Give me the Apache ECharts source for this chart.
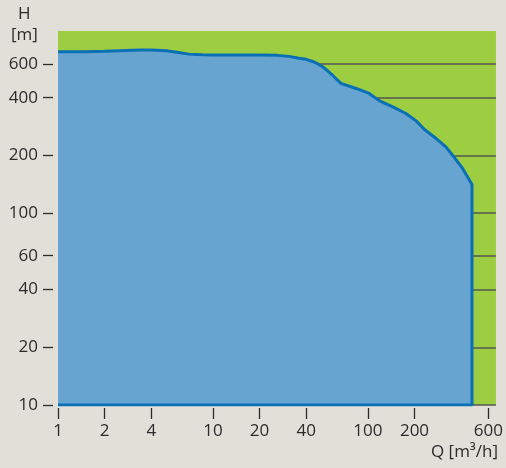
<!DOCTYPE html>
<html>
<head>
<meta charset="utf-8">
<script src="https://cdn.jsdelivr.net/npm/echarts@6/dist/echarts.min.js"></script>
<style>
html,body{margin:0;padding:0;background:#e2dfd9;}
#chart{width:506px;height:468px;}
</style>
</head>
<body>
<div id="chart"></div>
<script>
// Flow Q [m³/h] and head H [m] along the outline of the performance field
var flowQ = [1, 1.5, 2, 2.5, 3, 3.5, 4, 5, 6, 7, 8.5, 10, 20, 26, 31, 36, 40, 44, 48, 51, 55, 59, 63, 67, 84, 102, 119, 145, 176, 205, 232, 276, 320, 353, 409, 470, 470, 1];
var headH = [694, 695, 698, 703, 707, 709, 709, 703, 688, 675, 669, 667, 667, 665, 657, 643, 634, 618, 598, 580, 553, 525, 498, 475, 447, 421, 385, 358, 331, 303, 273, 245, 221, 200, 171, 141, 10, 10];
var xTicks = [1, 2, 4, 10, 20, 40, 100, 200, 600];
var yTicks = [10, 20, 40, 60, 100, 200, 400, 600];
var xMin = 1, xMax = 671, yMin = 10, yMax = 891;

var pts = flowQ.map(function (q, i) { return [q, headH[i]]; });
var font = '"Open Sans", "Noto Sans", sans-serif';
var txt = '#2b2b2b';

var chart = echarts.init(document.getElementById('chart'), null, {renderer: 'canvas'});
chart.setOption({
  backgroundColor: '#e2dfd9',
  animation: false,
  grid: {left: 58, right: 9, top: 31, bottom: 63, show: true, backgroundColor: '#9dcd40', borderWidth: 0},
  xAxis: {
    type: 'log', logBase: 10, min: xMin, max: xMax, offset: 3,
    axisLine: {show: false},
    axisTick: {show: true, length: 11, customValues: xTicks, lineStyle: {color: txt, width: 1.3}},
    axisLabel: {customValues: xTicks, margin: 15, color: txt, fontSize: 17, fontFamily: font},
    splitLine: {show: false}
  },
  yAxis: {
    type: 'log', logBase: 10, min: yMin, max: yMax, offset: 5,
    axisLine: {show: false},
    axisTick: {show: true, length: 10, customValues: yTicks, lineStyle: {color: txt, width: 1.3}},
    axisLabel: {customValues: yTicks, margin: 15, color: txt, fontSize: 17, fontFamily: font},
    splitLine: {show: true, lineStyle: {color: '#555', width: 1.5}}
  },
  series: [{
    type: 'line',
    data: pts,
    symbol: 'none',
    smooth: false,
    lineStyle: {color: '#0a70b6', width: 3},
    areaStyle: {color: '#68a4d0', opacity: 1, origin: 'start'},
    z: 3
  }],
  graphic: [
    {type: 'text', left: 18, top: 6, style: {text: 'H', font: '17px ' + font, fill: txt}},
    {type: 'text', left: 11, top: 27, style: {text: '[m]', font: '17px ' + font, fill: txt}},
    {type: 'text', right: 8, top: 444, style: {text: 'Q [m³/h]', font: '17px ' + font, fill: txt}}
  ]
});
</script>
</body>
</html>
